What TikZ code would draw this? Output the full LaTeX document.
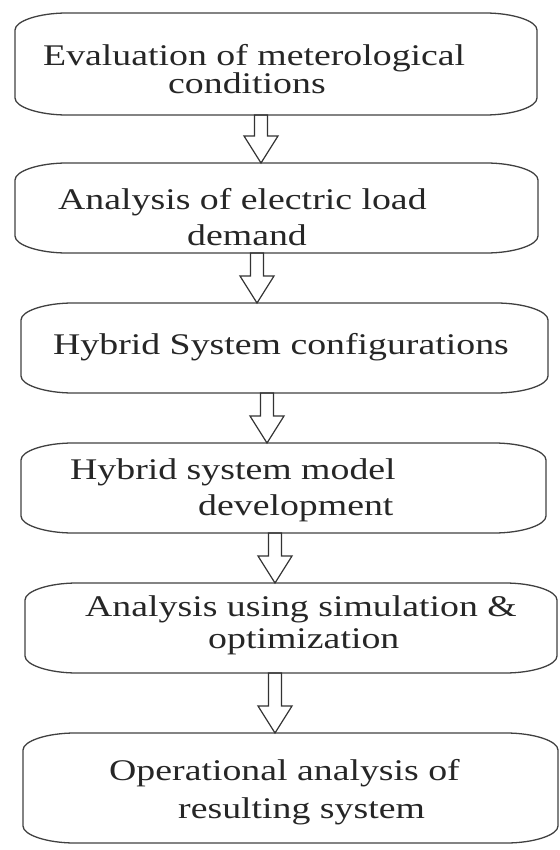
\documentclass[tikz,border=0pt]{standalone}
\usepackage{fontspec}
\setmainfont{Liberation Serif}[FakeStretch=1.26]
\usetikzlibrary{calc}

\tikzset{
  stagebox/.style={draw=none, inner sep=0pt, outer sep=0pt},
  stagetext/.style={anchor=base west, align=left, inner sep=0pt,
    text=black!85, font=\fontsize{30pt}{26pt}\selectfont},
  boxline/.style={draw=black!75, line width=1.3pt},
  arrowline/.style={draw=black!80, line width=1.2pt, line join=miter},
}

\newcommand{\hollowarrow}[3]{%
  \draw[arrowline] let \p1=([xshift=#3]#1.south), \p2=(#2.north) in
    (\x1-6.5pt,\y1) -- (\x1-6.5pt,\y2+27pt) -- (\x1-17pt,\y2+27pt) -- (\x1,\y2)
    -- (\x1+17pt,\y2+27pt) -- (\x1+6.5pt,\y2+27pt) -- (\x1+6.5pt,\y1) -- cycle;}

\begin{document}
\begin{tikzpicture}
      [x=1pt,y=-1pt]
      \useasboundingbox (0,0) rectangle (559,850);
      \node[stagebox, minimum width=522pt, minimum height=102pt] (b1) at (276,64) {};
      \node[stagebox, minimum width=523pt, minimum height=90pt] (b2) at (276.5,208) {};
      \node[stagebox, minimum width=527pt, minimum height=90pt] (b3) at (284.5,348) {};
      \node[stagebox, minimum width=525pt, minimum height=90pt] (b4) at (283.5,488) {};
      \node[stagebox, minimum width=532pt, minimum height=90pt] (b5) at (291,628) {};
      \node[stagebox, minimum width=535pt, minimum height=110pt] (b6) at (290.5,788) {};
      \foreach \i in {1,...,6}
        \draw[boxline] let \p1=(b\i.south west), \p2=(b\i.north east) in
          (\x1+52pt,\y2) -- (\x2-52pt,\y2)
          .. controls (\x2-24pt,\y2) and (\x2,\y2-8pt) .. (\x2,\y2-17pt)
          -- (\x2,\y1+17pt)
          .. controls (\x2,\y1+8pt) and (\x2-24pt,\y1) .. (\x2-52pt,\y1)
          -- (\x1+52pt,\y1)
          .. controls (\x1+24pt,\y1) and (\x1,\y1+8pt) .. (\x1,\y1+17pt)
          -- (\x1,\y2-17pt)
          .. controls (\x1,\y2-8pt) and (\x1+24pt,\y2) .. (\x1+52pt,\y2) -- cycle;
      \node[stagetext] (t1) at (43,94) {Evaluation of meterological\\\hspace*{125pt}conditions};
      \node[stagetext] (t2) at (58,245) {Analysis of electric load\\[7pt]\hspace*{129pt}demand};
      \node[stagetext] (t3) at (53,354) {Hybrid System configurations};
      \node[stagetext] (t4) at (70,515) {Hybrid system model\\[7pt]\hspace*{128pt}development};
      \node[stagetext] (t5) at (85,648) {Analysis using simulation \&\\[4pt]\hspace*{123pt}optimization};
      \node[stagetext] (t6) at (109,818) {Operational analysis of\\[9pt]\hspace*{69pt}resulting system};
      \hollowarrow{b1}{b2}{-15pt}
      \hollowarrow{b2}{b3}{-19.5pt}
      \hollowarrow{b3}{b4}{-17.5pt}
      \hollowarrow{b4}{b5}{-8.5pt}
      \hollowarrow{b5}{b6}{-16pt}
    \end{tikzpicture}
\end{document}
